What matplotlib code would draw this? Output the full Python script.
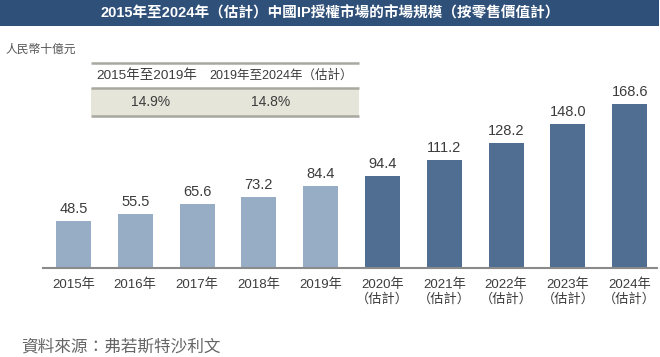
import matplotlib.pyplot as plt
from matplotlib.patches import Rectangle

plt.rcParams['font.family'] = ['Liberation Sans', 'Noto Sans CJK TC', 'DejaVu Sans']

# Daten
years = ['2015年', '2016年', '2017年', '2018年', '2019年',
         '2020年\n（估計）', '2021年\n（估計）', '2022年\n（估計）', '2023年\n（估計）', '2024年\n（估計）']
values = [48.5, 55.5, 65.6, 73.2, 84.4, 94.4, 111.2, 128.2, 148.0, 168.6]
estimated = [False] * 5 + [True] * 5
cagr_periods = ['2015年至2019年', '2019年至2024年（估計）']
cagr_values = ['14.9%', '14.8%']

title = '2015年至2024年（估計）中國IP授權市場的市場規模（按零售價值計）'
unit = '人民幣十億元'
source = '資料來源：弗若斯特沙利文'

light = '#97adc6'
dark = '#4f6e92'
txt = '#3c3c3c'

W, H = 660, 357
fig = plt.figure(figsize=(W / 100, H / 100), dpi=100)

# Overlay in Pixelkoordinaten für Banner, Tabelle, Texte
ov = fig.add_axes([0, 0, 1, 1])
ov.set_xlim(0, W)
ov.set_ylim(H, 0)
ov.axis('off')

ov.add_patch(Rectangle((0, 0), 659, 26, color='#2f5079', lw=0))
ov.text(330, 13.5, title, color='white', fontsize=10.5, fontweight='bold',
        ha='center', va='center')
ov.text(5, 50, unit, color='#555555', fontsize=8.5, ha='left', va='center')

# CAGR-Tabelle
ov.add_patch(Rectangle((91, 88), 268, 28, color='#e5e5da', lw=0))
for yy in (63, 88, 116):
    ov.plot([91, 359], [yy, yy], color='#a8a8a0', lw=1.8, solid_capstyle='butt')
col_x = [147, 281]
col_fs = [9.7, 9.0]
val_x = [151, 271]
for cx, fs, vx, p, v in zip(col_x, col_fs, val_x, cagr_periods, cagr_values):
    ov.text(cx, 76, p, color=txt, fontsize=fs, ha='center', va='center')
    ov.text(vx, 102.5, v, color=txt, fontsize=10, ha='center', va='center')

ov.text(21, 347, source, color='#666666', fontsize=12, ha='left', va='center',
        style='italic')

# Balkendiagramm
base_y = 267.6
scale = 0.97
left_px, right_px = 43, 657
top_px = 40
ax = fig.add_axes([left_px / W, (H - base_y) / H, (right_px - left_px) / W, (base_y - top_px) / H])
ax.set_facecolor('none')
x = list(range(len(values)))
colors = [dark if e else light for e in estimated]
ax.bar(x, values, width=0.566, color=colors, zorder=2)
ax.set_xlim(-0.492, 9.44)
ax.set_ylim(0, (base_y - top_px) / scale)
for xi, v in zip(x, values):
    ax.text(xi, v + 5, f'{v:.1f}', ha='center', va='bottom', fontsize=10.5, color=txt)

ax.set_xticks(x)
ax.set_xticklabels(years, fontsize=9.5, color=txt, linespacing=1.15)
ax.tick_params(axis='x', length=0, pad=8)
ax.set_yticks([])
for s in ('left', 'right', 'top'):
    ax.spines[s].set_visible(False)
ax.spines['bottom'].set_color('#8a8a8a')
ax.spines['bottom'].set_linewidth(1.5)

fig.savefig('out.png', dpi=100)
